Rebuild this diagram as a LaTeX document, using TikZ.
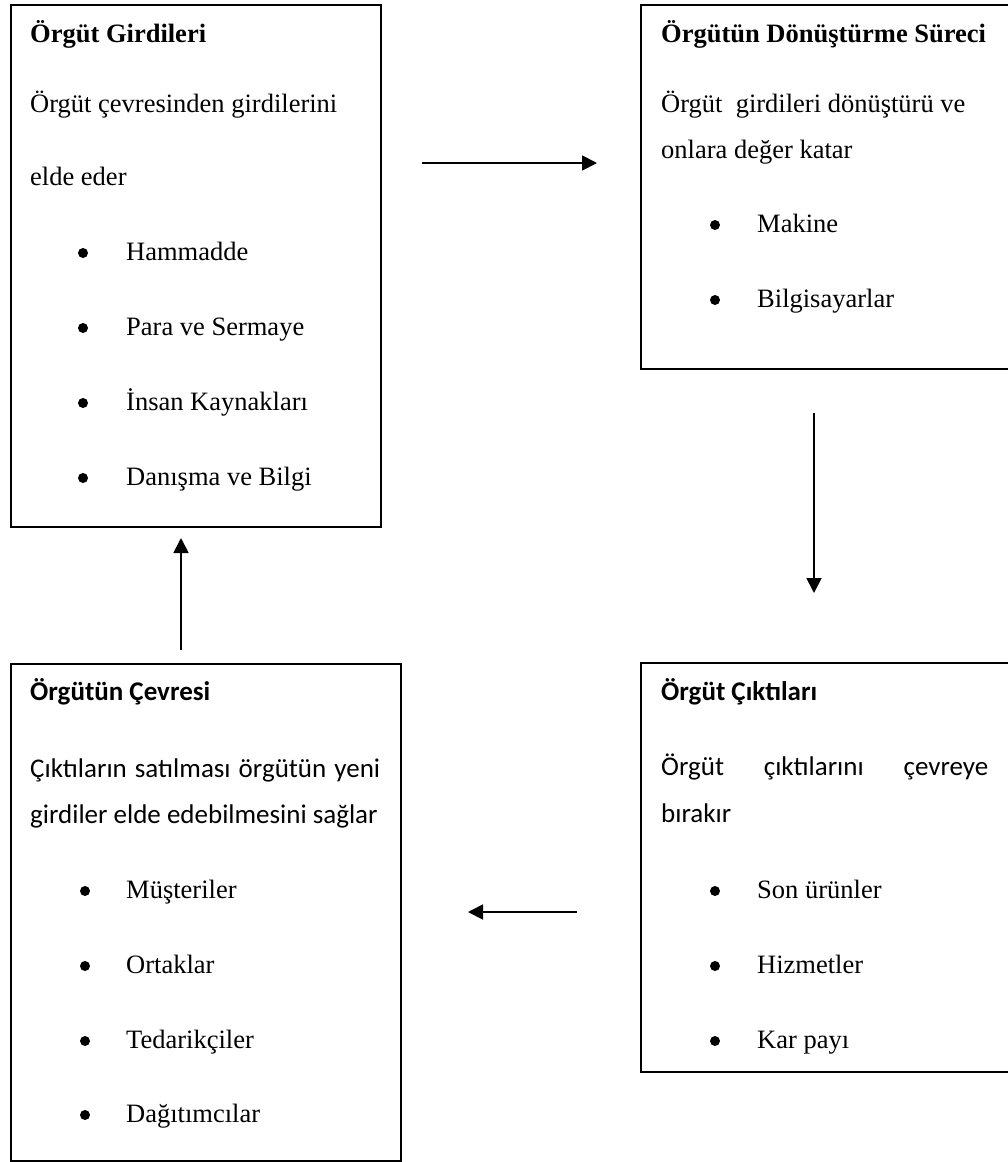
\documentclass[tikz,border=0pt]{standalone}
\usepackage{fontspec}
\setmainfont{Liberation Serif}
\newfontfamily\carlito{Carlito}
\usetikzlibrary{arrows.meta}

\tikzset{
  panel/.style={draw=black, line width=1.8pt, rectangle, inner sep=0pt, anchor=north west},
  flow/.style={line width=1.8pt, -{Triangle[length=15pt,width=15pt]}},
  txt/.style={inner sep=0pt, anchor=base west, font=\fontsize{26.5}{30}\selectfont},
  ctxt/.style={inner sep=0pt, anchor=base west, font=\fontsize{27}{30}\selectfont\carlito},
  dot/.style={circle, fill=black, draw=none, inner sep=0pt, minimum size=10pt, yshift=7pt}
}

\begin{document}
\begin{tikzpicture}[x=1pt, y=-1pt]
  \useasboundingbox (0,0) rectangle (1008,1162);
  \clip (0,0) rectangle (1008,1162);

  % the four panels
  \node[panel, minimum width=370pt, minimum height=522pt] (inputs)  at (10,4)    {};
  \node[panel, minimum width=390pt, minimum height=364pt] (process) at (640,4)   {};
  \node[panel, minimum width=390pt, minimum height=409pt] (outputs) at (640,662) {};
  \node[panel, minimum width=390pt, minimum height=497pt] (environ) at (10,663)  {};

  % inputs panel
  \node[txt, font=\fontsize{26.5}{30}\selectfont\bfseries] (inT) at (30,42) {Örgüt Girdileri};
  \node[txt] (inA) at (30,112) {Örgüt çevresinden girdilerini};
  \node[txt] (inB) at (30,185) {elde eder};
  \foreach \y/\t [count=\i] in {260/Hammadde, 335/Para ve Sermaye, 410/İnsan Kaynakları, 485/Danışma ve Bilgi}{
    \node[dot] (inD\i) at (83,\y) {};
    \node[txt] (inI\i) at (126,\y) {\t};
  }

  % transformation panel
  \node[txt, font=\fontsize{26.5}{30}\selectfont\bfseries] (prT) at (661,42) {Örgütün Dönüştürme Süreci};
  \node[txt] (prA) at (661,112) {Örgüt\ \ girdileri dönüştürü ve};
  \node[txt] (prB) at (661,158) {onlara değer katar};
  \foreach \y/\t [count=\i] in {232/Makine, 307/Bilgisayarlar}{
    \node[dot] (prD\i) at (715,\y) {};
    \node[txt] (prI\i) at (757,\y) {\t};
  }

  % outputs panel
  \node[ctxt, font=\fontsize{27}{30}\selectfont\carlito\bfseries] (ouT) at (661,700) {Örgüt Çıktıları};
  \node[ctxt] (ouA) at (661,775) {\makebox[327pt][l]{Örgüt\hfill çıktılarını\hfill çevreye}};
  \node[ctxt] (ouB) at (661,822) {bırakır};
  \foreach \y/\t [count=\i] in {898/Son ürünler, 973/Hizmetler, 1048/Kar payı}{
    \node[dot] (ouD\i) at (715,\y) {};
    \node[txt] (ouI\i) at (757,\y) {\t};
  }

  % environment panel
  \node[ctxt, font=\fontsize{27}{30}\selectfont\carlito\bfseries] (enT) at (30,700) {Örgütün Çevresi};
  \node[ctxt] (enA) at (30,777) {\makebox[350pt][l]{Çıktıların\hfill satılması\hfill örgütün\hfill yeni}};
  \node[ctxt] (enB) at (30,823) {girdiler elde edebilmesini sağlar};
  \foreach \y/\t [count=\i] in {898/Müşteriler, 973/Ortaklar, 1048/Tedarikçiler, 1122/Dağıtımcılar}{
    \node[dot] (enD\i) at (85,\y) {};
    \node[txt] (enI\i) at (126,\y) {\t};
  }

  % cycle arrows between the panels
  \coordinate (a1s) at (422,163);  \coordinate (a1e) at (597,163);
  \coordinate (a2s) at (814,413);  \coordinate (a2e) at (814,593);
  \coordinate (a3s) at (577,912);  \coordinate (a3e) at (468,912);
  \coordinate (a4s) at (181,650);  \coordinate (a4e) at (181,538);
  \draw[flow] (a1s) -- (a1e);
  \draw[flow] (a2s) -- (a2e);
  \draw[flow] (a3s) -- (a3e);
  \draw[flow] (a4s) -- (a4e);
\end{tikzpicture}
\end{document}
